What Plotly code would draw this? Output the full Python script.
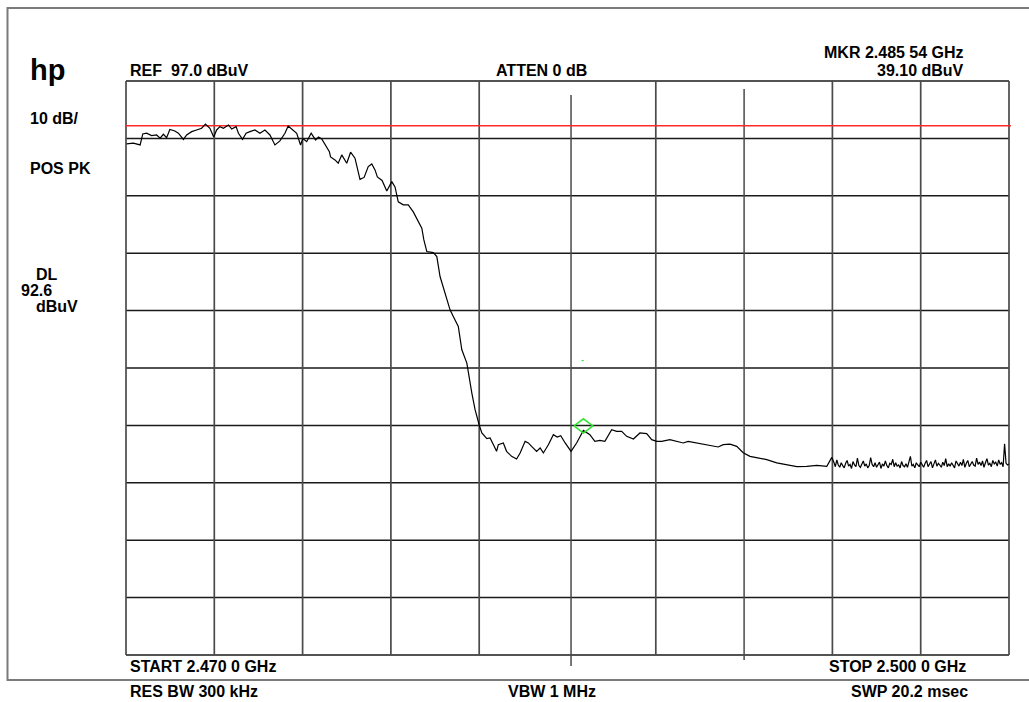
import plotly.graph_objects as go

# ---------------- data ----------------
freq_start_mhz = 2470.0
freq_stop_mhz = 2500.0
ref_level_dbuv = 97.0
db_per_div = 10.0
n_div = 10

display_line_dbuv = 89.2          # DL line as drawn on screen
marker_freq_mhz = 2485.54
marker_level_dbuv = 36.9          # marker symbol position on screen
marker_dot_freq_mhz = 2485.48
marker_dot_level_dbuv = 48.3
center_line_freq_mhz = 2485.12

x_div_freqs = [2470, 2473, 2476, 2479, 2482, 2485, 2488, 2491, 2494, 2497, 2500]
y_div_levels = [97, 87, 77, 67, 57, 47, 37, 27, 17, 7, -3]

freq_mhz = [
    2470.02, 2470.25, 2470.48, 2470.57, 2470.70, 2470.87, 2471.04, 2471.16, 2471.27, 2471.38,
    2471.49, 2471.66, 2471.78, 2471.95, 2472.06, 2472.23, 2472.40, 2472.57, 2472.70, 2472.85,
    2472.98, 2473.08, 2473.19, 2473.31, 2473.48, 2473.59, 2473.74, 2473.82, 2473.96, 2474.08,
    2474.21, 2474.38, 2474.55, 2474.72, 2474.89, 2475.06, 2475.23, 2475.40, 2475.51, 2475.68,
    2475.80, 2475.93, 2476.01, 2476.14, 2476.29, 2476.44, 2476.54, 2476.65, 2476.82, 2476.91,
    2476.95, 2477.10, 2477.21, 2477.33, 2477.50, 2477.63, 2477.78, 2477.95, 2478.09, 2478.23,
    2478.35, 2478.46, 2478.54, 2478.70, 2478.86, 2479.03, 2479.14, 2479.25, 2479.42, 2479.59,
    2479.76, 2479.93, 2480.05, 2480.12, 2480.22, 2480.44, 2480.56, 2480.67, 2480.84, 2481.01,
    2481.12, 2481.29, 2481.41, 2481.58, 2481.75, 2481.86, 2482.00, 2482.09, 2482.26, 2482.37,
    2482.50, 2482.59, 2482.65, 2482.82, 2482.93, 2483.10, 2483.27, 2483.39, 2483.56, 2483.67,
    2483.78, 2483.95, 2484.07, 2484.18, 2484.35, 2484.52, 2484.65, 2484.77, 2484.92, 2485.12,
    2485.31, 2485.54, 2485.76, 2485.93, 2486.10, 2486.27, 2486.50, 2486.67, 2486.84, 2487.01,
    2487.24, 2487.46, 2487.69, 2487.86, 2488.03, 2488.20, 2488.48, 2488.71, 2488.93, 2489.10,
    2489.39, 2489.61, 2489.84, 2490.12, 2490.29, 2490.52, 2490.75, 2490.97, 2491.20, 2491.43,
    2491.77, 2492.11, 2492.45, 2492.79, 2493.13, 2493.47, 2493.81, 2493.98,
]
level_dbuv = [
    86.03, 86.16, 85.86, 87.77, 87.90, 87.48, 87.60, 87.03, 87.72, 87.13,
    88.56, 88.30, 87.90, 86.82, 87.60, 88.18, 88.47, 88.77, 89.48, 88.77,
    87.25, 88.47, 89.05, 88.77, 89.34, 88.65, 89.05, 87.90, 86.85, 87.90,
    88.18, 88.47, 87.90, 88.47, 87.60, 85.86, 86.56, 87.90, 89.17, 88.47,
    87.90, 85.86, 86.99, 86.43, 87.90, 86.73, 87.25, 86.90, 85.29, 84.69,
    83.77, 83.25, 82.67, 84.12, 82.67, 84.59, 83.55, 79.86, 80.20, 82.08,
    82.55, 81.51, 80.29, 79.68, 77.85, 79.47, 78.55, 75.94, 75.42, 75.42,
    74.20, 72.51, 71.36, 69.32, 67.29, 67.11, 66.42, 62.94, 60.05, 57.14,
    55.97, 54.23, 50.18, 47.86, 42.64, 39.73, 37.07, 35.68, 34.69, 34.81,
    33.47, 32.48, 33.64, 33.94, 32.48, 31.61, 31.15, 32.20, 34.22, 33.94,
    33.35, 32.48, 33.07, 32.20, 33.64, 35.38, 34.98, 35.21, 33.94, 32.48,
    33.94, 36.13, 35.38, 34.22, 34.39, 34.22, 36.25, 35.96, 35.96, 35.09,
    34.63, 35.68, 35.56, 34.51, 34.22, 34.22, 34.51, 34.22, 33.94, 34.22,
    33.94, 33.82, 33.64, 33.24, 33.64, 33.73, 33.35, 32.25, 31.61, 31.33,
    31.03, 30.46, 30.16, 29.81, 29.86, 30.04, 29.86, 31.43,
]
noise_freq_mhz = [
    2494.05, 2494.10, 2494.15, 2494.20, 2494.25, 2494.30, 2494.35, 2494.40, 2494.45, 2494.50,
    2494.55, 2494.60, 2494.65, 2494.70, 2494.75, 2494.80, 2494.85, 2494.90, 2494.95, 2495.00,
    2495.05, 2495.10, 2495.15, 2495.20, 2495.25, 2495.30, 2495.35, 2495.40, 2495.45, 2495.50,
    2495.55, 2495.60, 2495.65, 2495.70, 2495.75, 2495.80, 2495.85, 2495.90, 2495.95, 2496.00,
    2496.05, 2496.10, 2496.15, 2496.20, 2496.25, 2496.30, 2496.35, 2496.40, 2496.45, 2496.50,
    2496.55, 2496.60, 2496.65, 2496.70, 2496.75, 2496.80, 2496.85, 2496.90, 2496.95, 2497.00,
    2497.05, 2497.10, 2497.15, 2497.20, 2497.25, 2497.30, 2497.35, 2497.40, 2497.45, 2497.50,
    2497.55, 2497.60, 2497.65, 2497.70, 2497.75, 2497.80, 2497.85, 2497.90, 2497.95, 2498.00,
    2498.05, 2498.10, 2498.15, 2498.20, 2498.25, 2498.30, 2498.35, 2498.40, 2498.45, 2498.50,
    2498.55, 2498.60, 2498.65, 2498.70, 2498.75, 2498.80, 2498.85, 2498.90, 2498.95, 2499.00,
    2499.05, 2499.10, 2499.15, 2499.20, 2499.25, 2499.30, 2499.35, 2499.40, 2499.45, 2499.50,
    2499.55, 2499.60, 2499.65, 2499.70, 2499.75, 2499.80, 2499.85, 2499.90, 2499.95, 2500.00,
]
noise_level_dbuv = [
    30.6, 29.8, 31.0, 30.1, 29.7, 30.5, 30.0, 29.6, 30.4, 30.9,
    29.9, 30.2, 29.5, 30.7, 30.1, 29.8, 31.3, 30.0, 29.7, 30.4,
    30.8, 29.9, 30.3, 29.6, 30.0, 31.4, 30.2, 29.8, 30.5, 29.7,
    30.1, 30.6, 29.5, 30.3, 29.9, 30.8, 30.0, 29.6, 30.4, 30.2,
    31.1, 29.8, 30.5, 29.9, 30.1, 29.6, 30.7, 30.0, 29.8, 30.3,
    29.7, 30.9, 31.6, 29.9, 30.2, 29.6, 30.5, 30.1, 29.8, 30.6,
    30.0, 29.7, 30.4, 30.9, 29.8, 30.2, 30.7, 29.6, 30.3, 31.0,
    29.9, 30.4, 30.1, 29.7, 30.6, 30.0, 31.2, 29.8, 30.3, 29.9,
    30.5, 30.1, 29.6, 30.8, 30.2, 29.9, 30.6, 30.0, 31.1, 29.7,
    30.4, 30.9, 29.8, 30.3, 30.7, 30.1, 29.9, 31.3, 30.2, 30.6,
    30.0, 30.8, 29.7, 30.5, 31.2, 30.1, 30.4, 29.8, 30.9, 30.3,
    30.6, 29.9, 31.0, 30.2, 30.5, 29.8, 33.8, 30.4, 30.1, 30.3,
]

# ---------------- layout geometry (pixels) ----------------
W, H = 1029, 702
PL, PR, PT, PB = 126, 1009, 81, 655
bottom_level = ref_level_dbuv - db_per_div * n_div


def xp(px):
    return (px - PL) / (PR - PL)


def yp(py):
    return (PB - py) / (PB - PT)


def fx(f):
    return (f - freq_start_mhz) / (freq_stop_mhz - freq_start_mhz)


def ly(db):
    return (db - bottom_level) / (ref_level_dbuv - bottom_level)


fig = go.Figure()

fig.add_trace(go.Scatter(
    x=freq_mhz + noise_freq_mhz,
    y=level_dbuv + noise_level_dbuv,
    mode="lines",
    line=dict(color="#000000", width=1.2),
    hoverinfo="skip",
))

# marker diamond (open, green)
dhw, dhh = 0.32, 1.25
fig.add_trace(go.Scatter(
    x=[marker_freq_mhz - dhw, marker_freq_mhz, marker_freq_mhz + dhw, marker_freq_mhz, marker_freq_mhz - dhw],
    y=[marker_level_dbuv, marker_level_dbuv + dhh, marker_level_dbuv, marker_level_dbuv - dhh, marker_level_dbuv],
    mode="lines",
    line=dict(color="#2ee62e", width=1.5),
    hoverinfo="skip",
))

shapes = []
# outer frame
shapes.append(dict(type="rect", xref="paper", yref="paper",
                   x0=xp(7.5), x1=xp(1040), y0=yp(680), y1=yp(8),
                   line=dict(color="#7a7a7a", width=2), layer="below"))
# horizontal graticule
for lv in y_div_levels:
    shapes.append(dict(type="line", xref="paper", yref="paper",
                       x0=fx(freq_start_mhz), x1=fx(freq_stop_mhz), y0=ly(lv), y1=ly(lv),
                       line=dict(color="#1a1a1a", width=1.5), layer="below"))
# vertical graticule
for f in x_div_freqs:
    if f in (2485, 2491):
        continue
    shapes.append(dict(type="line", xref="paper", yref="paper",
                       x0=fx(f), x1=fx(f), y0=ly(bottom_level), y1=ly(ref_level_dbuv),
                       line=dict(color="#4a4a4a", width=1.7), layer="below"))
# the two special vertical lines
shapes.append(dict(type="line", xref="paper", yref="paper",
                   x0=fx(center_line_freq_mhz), x1=fx(center_line_freq_mhz), y0=yp(666), y1=yp(95),
                   line=dict(color="#4a4a4a", width=1.5), layer="below"))
shapes.append(dict(type="line", xref="paper", yref="paper",
                   x0=fx(2491), x1=fx(2491), y0=yp(660), y1=yp(89),
                   line=dict(color="#4a4a4a", width=1.5), layer="below"))
# display line (red)
shapes.append(dict(type="line", xref="paper", yref="paper",
                   x0=fx(freq_start_mhz), x1=xp(1011), y0=ly(display_line_dbuv), y1=ly(display_line_dbuv),
                   line=dict(color="#ff2a2a", width=1.5), layer="below"))
# tiny green dot
shapes.append(dict(type="line", xref="paper", yref="paper",
                   x0=fx(marker_dot_freq_mhz), x1=fx(marker_dot_freq_mhz + 0.07),
                   y0=ly(marker_dot_level_dbuv), y1=ly(marker_dot_level_dbuv),
                   line=dict(color="#2ee62e", width=1.2)))

texts = [
    ("hp", 30, 70, "left", 29),
    ("REF\u00a0 97.0 dBuV", 130, 70.5, "left", 16),
    ("ATTEN 0 dB", 541, 70.5, "center", 16),
    ("MKR 2.485 54 GHz", 964, 52.5, "right", 16),
    ("39.10 dBuV", 964, 70.5, "right", 16),
    ("10 dB/", 30, 118.5, "left", 16),
    ("POS PK", 30, 168.5, "left", 16),
    ("DL", 36, 274, "left", 16),
    ("92.6", 21, 290, "left", 16),
    ("dBuV", 36, 306, "left", 16),
    ("START 2.470 0 GHz", 130, 666, "left", 16),
    ("STOP 2.500 0 GHz", 966, 666, "right", 16),
    ("RES BW 300 kHz", 130, 691, "left", 16),
    ("VBW 1 MHz", 552, 691, "center", 16),
    ("SWP 20.2 msec", 968, 691, "right", 16),
]
annotations = []
for t, x, y, anc, fs in texts:
    annotations.append(dict(
        text=t, xref="paper", yref="paper", x=xp(x), y=yp(y),
        xanchor=anc, yanchor="middle", showarrow=False,
        borderpad=0, borderwidth=0,
        font=dict(family="Liberation Sans, Arial, sans-serif", size=fs, color="#000000", weight="bold"),
    ))

fig.update_layout(
    width=W, height=H,
    margin=dict(l=PL, r=W - PR, t=PT, b=H - PB, autoexpand=False),
    paper_bgcolor="white", plot_bgcolor="white",
    showlegend=False,
    xaxis=dict(range=[freq_start_mhz, freq_stop_mhz], visible=False, fixedrange=True),
    yaxis=dict(range=[bottom_level, ref_level_dbuv], visible=False, fixedrange=True),
    shapes=shapes,
    annotations=annotations,
)

fig.write_html("out.html", post_script="document.body.style.margin='0';",
               config={"displayModeBar": False})
